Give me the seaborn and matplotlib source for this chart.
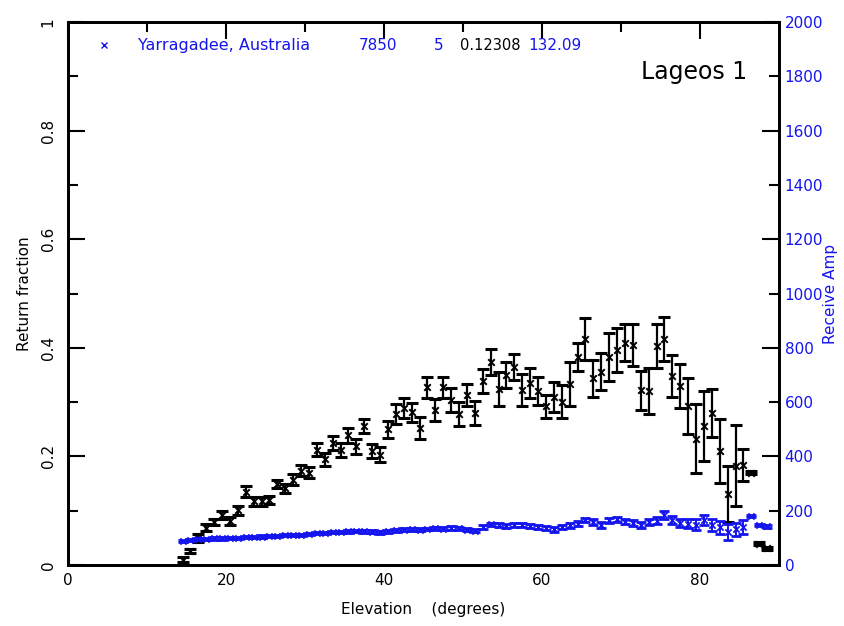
import matplotlib
matplotlib.use('Agg')
import matplotlib.pyplot as plt
import numpy as np
import pandas as pd
import seaborn as sns

# elevation bin centres (degrees)
elevation = np.arange(14.5, 89.0, 1.0)

# return fraction and its error
ret_frac = [0.010, 0.026, 0.050, 0.069, 0.079, 0.092, 0.081, 0.101, 0.135, 0.117,
            0.117, 0.120, 0.149, 0.141, 0.157, 0.174, 0.170, 0.212, 0.195, 0.224,
            0.212, 0.239, 0.219, 0.256, 0.210, 0.203, 0.250, 0.278, 0.289, 0.281,
            0.252, 0.327, 0.285, 0.327, 0.304, 0.278, 0.313, 0.280, 0.339, 0.374,
            0.324, 0.350, 0.365, 0.322, 0.335, 0.321, 0.292, 0.309, 0.301, 0.333,
            0.383, 0.416, 0.344, 0.356, 0.383, 0.396, 0.409, 0.405, 0.322, 0.321,
            0.403, 0.416, 0.348, 0.330, 0.293, 0.233, 0.256, 0.280, 0.210, 0.131,
            0.183, 0.184, 0.170, 0.039, 0.031]
ret_err = [0.004, 0.004, 0.007, 0.006, 0.006, 0.007, 0.007, 0.008, 0.010, 0.008,
           0.008, 0.008, 0.008, 0.009, 0.010, 0.010, 0.010, 0.012, 0.012, 0.013,
           0.013, 0.014, 0.014, 0.013, 0.013, 0.014, 0.016, 0.018, 0.018, 0.018,
           0.020, 0.020, 0.020, 0.020, 0.022, 0.022, 0.020, 0.022, 0.022, 0.024,
           0.031, 0.024, 0.024, 0.030, 0.027, 0.026, 0.022, 0.028, 0.030, 0.040,
           0.026, 0.039, 0.034, 0.034, 0.045, 0.040, 0.034, 0.038, 0.036, 0.042,
           0.041, 0.041, 0.039, 0.041, 0.052, 0.064, 0.064, 0.044, 0.059, 0.052,
           0.075, 0.029, 0.003, 0.003, 0.003]

# receive amplitude and its error
amp = [88, 92, 95, 96, 98, 98, 100, 101, 103, 104,
       105, 106, 108, 110, 110, 112, 114, 117, 119, 121,
       122, 124, 125, 124, 123, 120, 124, 128, 130, 131,
       130, 133, 135, 134, 136, 135, 130, 126, 140, 150,
       148, 144, 146, 147, 145, 141, 137, 131, 140, 146,
       152, 166, 158, 147, 165, 168, 160, 156, 148, 158,
       164, 184, 165, 155, 152, 148, 166, 148, 140, 122,
       132, 140, 180, 148, 142]
amp_err = [4, 4, 4, 4, 4, 4, 4, 4, 4, 4,
           4, 4, 4, 4, 4, 4, 4, 4, 4, 4,
           5, 5, 5, 5, 5, 5, 5, 5, 5, 5,
           5, 5, 5, 6, 6, 6, 6, 6, 6, 6,
           7, 7, 7, 7, 7, 8, 8, 8, 8, 8,
           9, 9, 10, 10, 10, 10, 10, 11, 12, 12,
           12, 14, 14, 16, 16, 20, 20, 22, 24, 28,
           24, 26, 4, 4, 4]

df = pd.DataFrame({'elev': elevation, 'frac': ret_frac, 'frac_err': ret_err,
                   'amp': amp, 'amp_err': amp_err})

BLUE = '#1414ee'

sns.set_style('white')
plt.rcParams['font.family'] = ['DejaVu Sans']
plt.rcParams['text.color'] = 'black'
plt.rcParams['axes.labelcolor'] = 'black'
plt.rcParams['xtick.color'] = 'black'
plt.rcParams['ytick.color'] = 'black'

fig = plt.figure(figsize=(8.45, 6.26), dpi=100)
ax = fig.add_axes([0.0805, 0.0974, 0.8414, 0.8674])

# black: return fraction
ax.errorbar(df['elev'], df['frac'], yerr=df['frac_err'], fmt='none',
            ecolor='black', elinewidth=1.6, capsize=4, capthick=2.2, zorder=3)
sns.scatterplot(data=df, x='elev', y='frac', marker='x', color='black',
                s=22, linewidth=1.4, ax=ax, zorder=4)

ax.set_xlim(0, 90)
ax.set_ylim(0, 1)
ax.set_xticks([0, 20, 40, 60, 80])
ax.set_xticks(np.arange(10, 90, 20), minor=True)
ax.set_yticks([0, 0.2, 0.4, 0.6, 0.8, 1.0])
ax.set_yticklabels(['0', '0.2', '0.4', '0.6', '0.8', '1'], rotation=90, va='center')
ax.set_yticks(np.arange(0.1, 1.0, 0.2), minor=True)
ax.tick_params(axis='both', which='major', direction='in', length=12, width=1.5,
               labelsize=11, top=True, pad=6)
ax.tick_params(axis='y', which='major', pad=9)
ax.tick_params(axis='both', which='minor', direction='in', length=7, width=1.5,
               top=True)
ax.tick_params(axis='y', right=False, which='both')
ax.set_xlabel('Elevation    (degrees)', fontsize=11, labelpad=10)
ax.set_ylabel('Return fraction', fontsize=11, labelpad=6)
for sp in ax.spines.values():
    sp.set_linewidth(2)
    sp.set_color('black')

# blue: receive amp on the right axis
ax2 = ax.twinx()
ax2.errorbar(df['elev'], df['amp'], yerr=df['amp_err'], fmt='none',
             ecolor=BLUE, elinewidth=1.4, capsize=3.5, capthick=2, zorder=3)
sns.scatterplot(data=df, x='elev', y='amp', marker='x', color=BLUE,
                s=20, linewidth=1.3, ax=ax2, zorder=4)
ax2.set_ylim(0, 2000)
ax2.set_yticks(np.arange(0, 2001, 400))
ax2.set_yticks(np.arange(200, 2000, 400), minor=True)
ax2.set_yticklabels([str(v) for v in range(200, 2000, 400)], minor=True)
ax2.tick_params(axis='y', which='major', direction='in', length=12, width=1.5,
                labelsize=11, labelcolor=BLUE, pad=4)
ax2.tick_params(axis='y', which='minor', direction='in', length=7, width=1.5,
                labelsize=11, labelcolor=BLUE, pad=4)
ax2.set_ylabel('Receive Amp', color=BLUE, fontsize=11, labelpad=0)
ax2.set_xlabel('')
for sp in ax2.spines.values():
    sp.set_linewidth(2)
    sp.set_color('black')

# header line
ax.plot([4.5], [0.957], marker='x', color=BLUE, markersize=4, mew=1, ls='none')
ax.text(8.8, 0.957, 'Yarragadee, Australia', color=BLUE, fontsize=11.5, va='center')
ax.text(36.8, 0.957, '7850', color=BLUE, fontsize=11, va='center')
ax.text(46.3, 0.957, '5', color=BLUE, fontsize=11, va='center')
ax.text(49.6, 0.957, '0.12308', color='black', fontsize=10.5, va='center')
ax.text(58.3, 0.957, '132.09', color=BLUE, fontsize=11, va='center')
ax.text(72.5, 0.908, 'Lageos 1', color='black', fontsize=17, va='center')

fig.savefig('out.png', dpi=100)
